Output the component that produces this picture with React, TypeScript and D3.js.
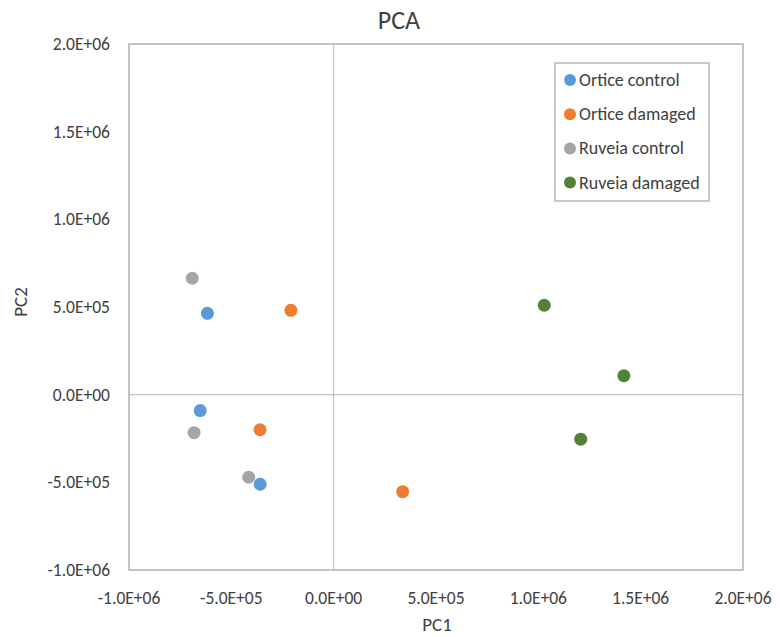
import { useEffect, useRef } from "react";
import * as d3 from "d3";

interface Pt {
  series: string;
  pc1: number;
  pc2: number;
}

const seriesNames = ["Ortice control", "Ortice damaged", "Ruveia control", "Ruveia damaged"];
const seriesColors = ["#5b9bd5", "#ed7d31", "#a5a5a5", "#548235"];

const orticeControl: [number, number][] = [
  [-617000, 464000],
  [-652000, -91000],
  [-359000, -511000],
];
const orticeDamaged: [number, number][] = [
  [-209000, 481000],
  [-360000, -200000],
  [337000, -553000],
];
const ruveiaControl: [number, number][] = [
  [-691000, 664000],
  [-682000, -217000],
  [-415000, -471000],
];
const ruveiaDamaged: [number, number][] = [
  [1029000, 510000],
  [1418000, 108000],
  [1207000, -254000],
];

const xTicks = [-1e6, -5e5, 0, 5e5, 1e6, 1.5e6, 2e6];
const yTicks = [-1e6, -5e5, 0, 5e5, 1e6, 1.5e6, 2e6];

const fmt = (v: number) => {
  if (v === 0) return "0.0E+00";
  const e = Math.floor(Math.log10(Math.abs(v)));
  const m = v / Math.pow(10, e);
  return `${m.toFixed(1)}E+${String(e).padStart(2, "0")}`;
};

export default function App() {
  const svgRef = useRef<SVGSVGElement>(null);

  useEffect(() => {
    if (!svgRef.current) return;
    const svg = d3.select(svgRef.current);
    svg.selectAll("*").remove();

    const font = "Carlito, Lato, 'Open Sans', sans-serif";
    const textColor = "#404040";
    const left = 129, right = 743, top = 44, bottom = 570;

    const x = d3.scaleLinear().domain([-1e6, 2e6]).range([left, right]);
    const y = d3.scaleLinear().domain([-1e6, 2e6]).range([bottom, top]);

    const points: Pt[] = [
      ...orticeControl.map(([a, b]) => ({ series: seriesNames[0], pc1: a, pc2: b })),
      ...orticeDamaged.map(([a, b]) => ({ series: seriesNames[1], pc1: a, pc2: b })),
      ...ruveiaControl.map(([a, b]) => ({ series: seriesNames[2], pc1: a, pc2: b })),
      ...ruveiaDamaged.map(([a, b]) => ({ series: seriesNames[3], pc1: a, pc2: b })),
    ];
    const color = d3.scaleOrdinal<string, string>().domain(seriesNames).range(seriesColors);

    svg.append("rect").attr("width", 780).attr("height", 637).attr("fill", "#fff");

    // plot frame
    svg
      .append("rect")
      .attr("x", left)
      .attr("y", top)
      .attr("width", right - left)
      .attr("height", bottom - top)
      .attr("fill", "none")
      .attr("stroke", "#a6a6a6")
      .attr("stroke-width", 1.3);

    // zero axes
    svg
      .append("line")
      .attr("x1", x(0))
      .attr("x2", x(0))
      .attr("y1", top)
      .attr("y2", bottom)
      .attr("stroke", "#c4c4c4")
      .attr("stroke-width", 1.2);
    svg
      .append("line")
      .attr("x1", left)
      .attr("x2", right)
      .attr("y1", y(0))
      .attr("y2", y(0))
      .attr("stroke", "#c4c4c4")
      .attr("stroke-width", 1.2);

    // tick labels
    svg
      .selectAll(".xt")
      .data(xTicks)
      .join("text")
      .attr("x", (d) => x(d))
      .attr("y", 604)
      .attr("text-anchor", "middle")
      .attr("font-family", font)
      .attr("font-size", 17.5)
      .attr("fill", textColor)
      .text((d) => fmt(d));

    svg
      .selectAll(".yt")
      .data(yTicks)
      .join("text")
      .attr("x", 110)
      .attr("y", (d) => y(d) + 6)
      .attr("text-anchor", "end")
      .attr("font-family", font)
      .attr("font-size", 17.5)
      .attr("fill", textColor)
      .text((d) => fmt(d));

    // titles
    svg
      .append("text")
      .attr("x", 399)
      .attr("y", 29)
      .attr("text-anchor", "middle")
      .attr("font-family", font)
      .attr("font-size", 26)
      .attr("fill", textColor)
      .text("PCA");
    svg
      .append("text")
      .attr("x", 437)
      .attr("y", 631)
      .attr("text-anchor", "middle")
      .attr("font-family", font)
      .attr("font-size", 19)
      .attr("fill", textColor)
      .text("PC1");
    svg
      .append("text")
      .attr("transform", "translate(27,302) rotate(-90)")
      .attr("text-anchor", "middle")
      .attr("font-family", font)
      .attr("font-size", 19)
      .attr("fill", textColor)
      .text("PC2");

    // points
    svg
      .selectAll(".pt")
      .data(points)
      .join("circle")
      .attr("cx", (d) => x(d.pc1))
      .attr("cy", (d) => y(d.pc2))
      .attr("r", 6.5)
      .attr("fill", (d) => color(d.series));

    // legend
    svg
      .append("rect")
      .attr("x", 555)
      .attr("y", 63)
      .attr("width", 154)
      .attr("height", 138)
      .attr("fill", "#fff")
      .attr("stroke", "#a6a6a6")
      .attr("stroke-width", 1.2);
    const items = svg
      .selectAll(".lg")
      .data(seriesNames)
      .join("g")
      .attr("transform", (d, i) => `translate(570, ${80 + i * 34.2})`);
    items.append("circle").attr("r", 6).attr("fill", (d) => color(d));
    items
      .append("text")
      .attr("x", 9)
      .attr("y", 6)
      .attr("font-family", font)
      .attr("font-size", 18)
      .attr("fill", textColor)
      .text((d) => d);
  }, []);

  return (
    <svg
      ref={svgRef}
      width={780}
      height={637}
      style={{ position: "absolute", left: 0, top: 0 }}
    />
  );
}
